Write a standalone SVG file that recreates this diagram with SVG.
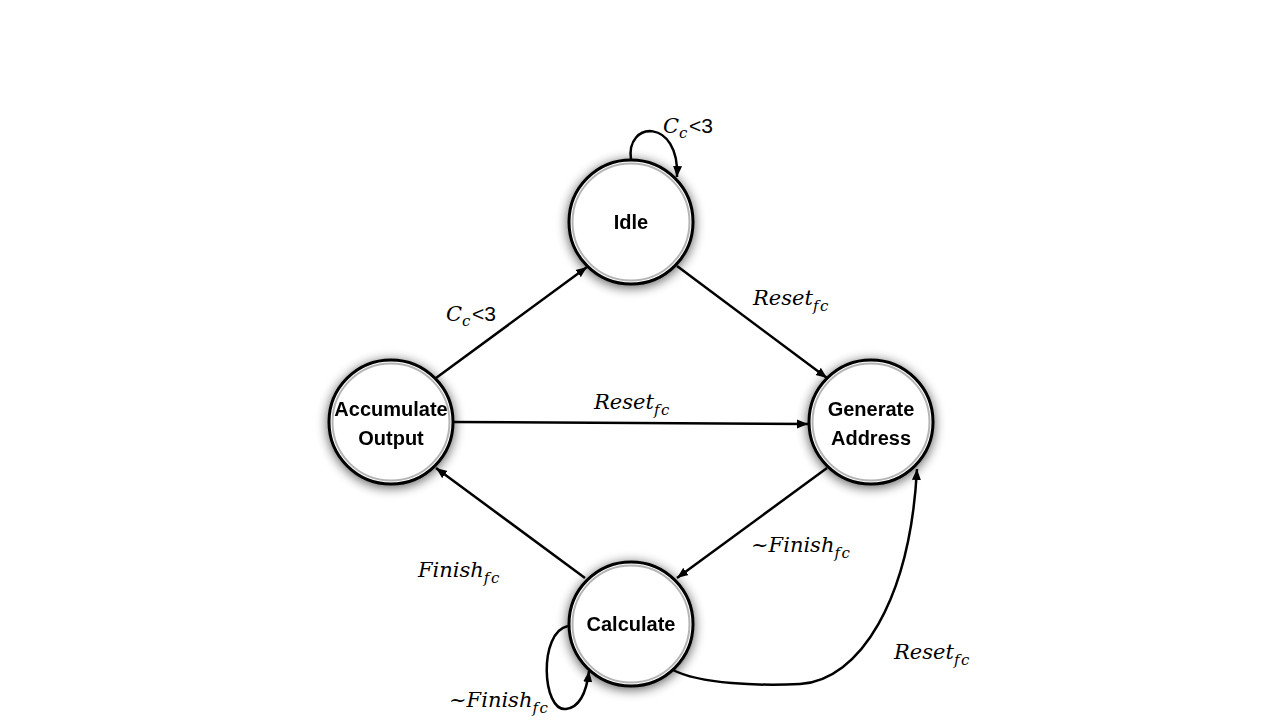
<svg xmlns="http://www.w3.org/2000/svg" width="1280" height="720" viewBox="0 0 1280 720">
<style>
.node-outer{fill:#fff;stroke:#000;stroke-width:3}
.node-inner{fill:none;stroke:#b4b4b4;stroke-width:2}
.lbl{font-family:"Liberation Sans",Arial,sans-serif;font-weight:bold;font-size:20px;fill:#000;text-anchor:middle}
.edge{fill:none;stroke:#000;stroke-width:2.5}
.m{font-family:"DejaVu Serif","Liberation Serif",serif;font-style:italic;font-size:21px;fill:#000}
.sub{font-size:15px;letter-spacing:1.5px}
.up{font-family:"Liberation Sans",Arial,sans-serif;font-style:normal;font-size:21px;letter-spacing:0}
</style>
<defs>
<filter id="sh" x="-30%" y="-30%" width="160%" height="160%">
<feGaussianBlur in="SourceAlpha" stdDeviation="6"/>
<feOffset dx="0" dy="2" result="b"/>
<feComponentTransfer><feFuncA type="linear" slope="0.65"/></feComponentTransfer>
<feMerge><feMergeNode/><feMergeNode in="SourceGraphic"/></feMerge>
</filter>
<marker id="arr" markerUnits="userSpaceOnUse" markerWidth="12" markerHeight="10" refX="11" refY="5" orient="auto">
<path d="M0,0.5 L11,5 L0,9.5 z" fill="#000"/>
</marker>
</defs>
<rect width="1280" height="720" fill="#fff"/>

<g id="edges">
<path class="edge" d="M436,378 L587,267" marker-end="url(#arr)"/>
<path class="edge" d="M677,266 L827,378" marker-end="url(#arr)"/>
<path class="edge" d="M454,422 L808,424" marker-end="url(#arr)"/>
<path class="edge" d="M827,468 L677,578" marker-end="url(#arr)"/>
<path class="edge" d="M585,578 L436,468" marker-end="url(#arr)"/>
<path class="edge" d="M631,160 C625,120 680,118 677,177" marker-end="url(#arr)"/>
<path class="edge" d="M568,626 C538,632 542,712 566,709 C582,707 587,688 589,671" marker-end="url(#arr)"/>
<path class="edge" d="M673,670 C700,684 760,686 800,684 C860,680 910,600 917,469" marker-end="url(#arr)"/>
</g>

<g id="idle" filter="url(#sh)">
<circle class="node-outer" cx="631" cy="222" r="62"/>
<circle class="node-inner" cx="631" cy="222" r="58.5"/>
<text class="lbl" x="631" y="229">Idle</text>
</g>
<g id="accumulate" filter="url(#sh)">
<circle class="node-outer" cx="391" cy="422" r="62"/>
<circle class="node-inner" cx="391" cy="422" r="58.5"/>
<text class="lbl" x="391" y="416">Accumulate</text>
<text class="lbl" x="391" y="445">Output</text>
</g>
<g id="generate" filter="url(#sh)">
<circle class="node-outer" cx="871" cy="422" r="62"/>
<circle class="node-inner" cx="871" cy="422" r="58.5"/>
<text class="lbl" x="871" y="416">Generate</text>
<text class="lbl" x="871" y="445">Address</text>
</g>
<g id="calculate" filter="url(#sh)">
<circle class="node-outer" cx="631" cy="624" r="62"/>
<circle class="node-inner" cx="631" cy="624" r="58.5"/>
<text class="lbl" x="631" y="631">Calculate</text>
</g>

<g id="labels">
<text class="m" x="663" y="133">C<tspan class="sub" dy="5">c</tspan><tspan class="up" dy="-5">&lt;3</tspan></text>
<text class="m" x="446" y="321">C<tspan class="sub" dy="5">c</tspan><tspan class="up" dy="-5">&lt;3</tspan></text>
<text class="m" x="753" y="305">Reset<tspan class="sub" dy="6">fc</tspan></text>
<text class="m" x="594" y="409">Reset<tspan class="sub" dy="6">fc</tspan></text>
<text class="m" x="751" y="552">~Finish<tspan class="sub" dy="6">fc</tspan></text>
<text class="m" x="418" y="577">Finish<tspan class="sub" dy="6">fc</tspan></text>
<text class="m" x="894" y="659">Reset<tspan class="sub" dy="6">fc</tspan></text>
<text class="m" x="449" y="707">~Finish<tspan class="sub" dy="6">fc</tspan></text>
</g>
</svg>
